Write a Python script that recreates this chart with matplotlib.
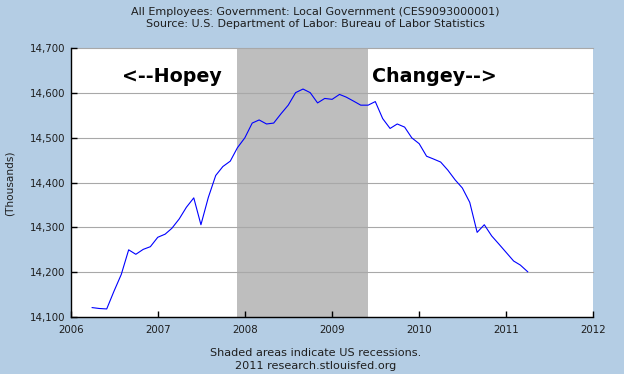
import numpy as np
import pandas as pd
import matplotlib
matplotlib.use("Agg")
import matplotlib.pyplot as plt
import matplotlib.dates as mdates

'''
Data: Local government employees, thousands (monthly, Apr 2006 - Apr 2011)
'''
months = pd.date_range("2006-04-01", periods=61, freq="MS")
employees = [
    14121, 14119, 14118, 14157, 14195, 14250, 14240, 14251, 14257,          # 2006
    14278, 14285, 14298, 14319, 14345, 14366, 14306, 14367, 14416, 14436,
    14448, 14478,                                                          # 2007
    14500, 14533, 14540, 14531, 14533, 14554, 14573, 14601, 14609, 14601,
    14578, 14588,                                                          # 2008
    14586, 14597, 14591, 14582, 14573, 14573, 14581, 14543, 14521, 14531,
    14524, 14500,                                                          # 2009
    14487, 14459, 14453, 14446, 14428, 14406, 14388, 14356, 14289, 14306,
    14281, 14263,                                                          # 2010
    14244, 14225, 14216, 14201,                                            # 2011
]

recession_start = pd.Timestamp("2007-12-01")
recession_end = pd.Timestamp("2009-06-01")

x_ticks = [pd.Timestamp(f"{y}-01-01") for y in range(2006, 2013)]
x_labels = [str(y) for y in range(2006, 2013)]
y_ticks = [14100, 14200, 14300, 14400, 14500, 14600, 14700]

title_1 = "All Employees: Government: Local Government (CES9093000001)"
title_2 = "Source: U.S. Department of Labor: Bureau of Labor Statistics"
caption_1 = "Shaded areas indicate US recessions."
caption_2 = "2011 research.stlouisfed.org"

'''
Styling
'''
bg = "#B4CDE4"
txt = "#1E1E1E"

fig = plt.figure(figsize=(6.24, 3.74), dpi=100, facecolor=bg)
ax = fig.add_axes([0.1133, 0.1524, 0.8375, 0.7185])
ax.set_facecolor("white")

ax.axvspan(recession_start, recession_end, color="#BEBEBE", lw=0, zorder=0)
ax.plot(months, employees, color="#0000FF", lw=0.8, zorder=3)

ax.set_xlim(x_ticks[0], x_ticks[-1])
ax.set_ylim(y_ticks[0], y_ticks[-1])
ax.set_xticks(x_ticks)
ax.set_xticklabels(x_labels)
ax.set_yticks(y_ticks)
ax.set_yticklabels([f"{v:,}" for v in y_ticks])

ax.yaxis.grid(True, color="#A8A8A8", lw=0.8, zorder=1)
ax.set_axisbelow(False)
for gl in ax.get_ygridlines():
    gl.set_zorder(1)
    gl.set_clip_on(False)

for s in ["top", "right"]:
    ax.spines[s].set_visible(False)
for s in ["left", "bottom"]:
    ax.spines[s].set_color("black")
    ax.spines[s].set_linewidth(1.0)
    ax.spines[s].set_zorder(4)

ax.tick_params(direction="in", length=4, width=1, color="black",
               labelsize=7.4, labelcolor=txt)
ax.tick_params(axis="y", pad=4)
ax.tick_params(axis="x", pad=6)

# annotations
ax.text(pd.Timestamp("2006-08-05"), 14625, "<--Hopey", fontsize=13.7,
        fontweight="bold", color="black", va="baseline", zorder=5)
ax.text(pd.Timestamp("2009-06-19"), 14625, "Changey-->", fontsize=13.7,
        fontweight="bold", color="black", va="baseline", zorder=5)

fig.text(0.016, 0.511, "(Thousands)", rotation=90, ha="center", va="center",
         fontsize=7.6, color=txt)

fig.text(0.505, 0.969, title_1, ha="center", va="center", fontsize=8.0, color=txt)
fig.text(0.505, 0.935, title_2, ha="center", va="center", fontsize=8.0, color=txt)
fig.text(0.506, 0.056, caption_1, ha="center", va="center", fontsize=8.1, color=txt)
fig.text(0.506, 0.021, caption_2, ha="center", va="center", fontsize=8.1, color=txt)

plt.savefig("out.png", dpi=100, facecolor=bg)
